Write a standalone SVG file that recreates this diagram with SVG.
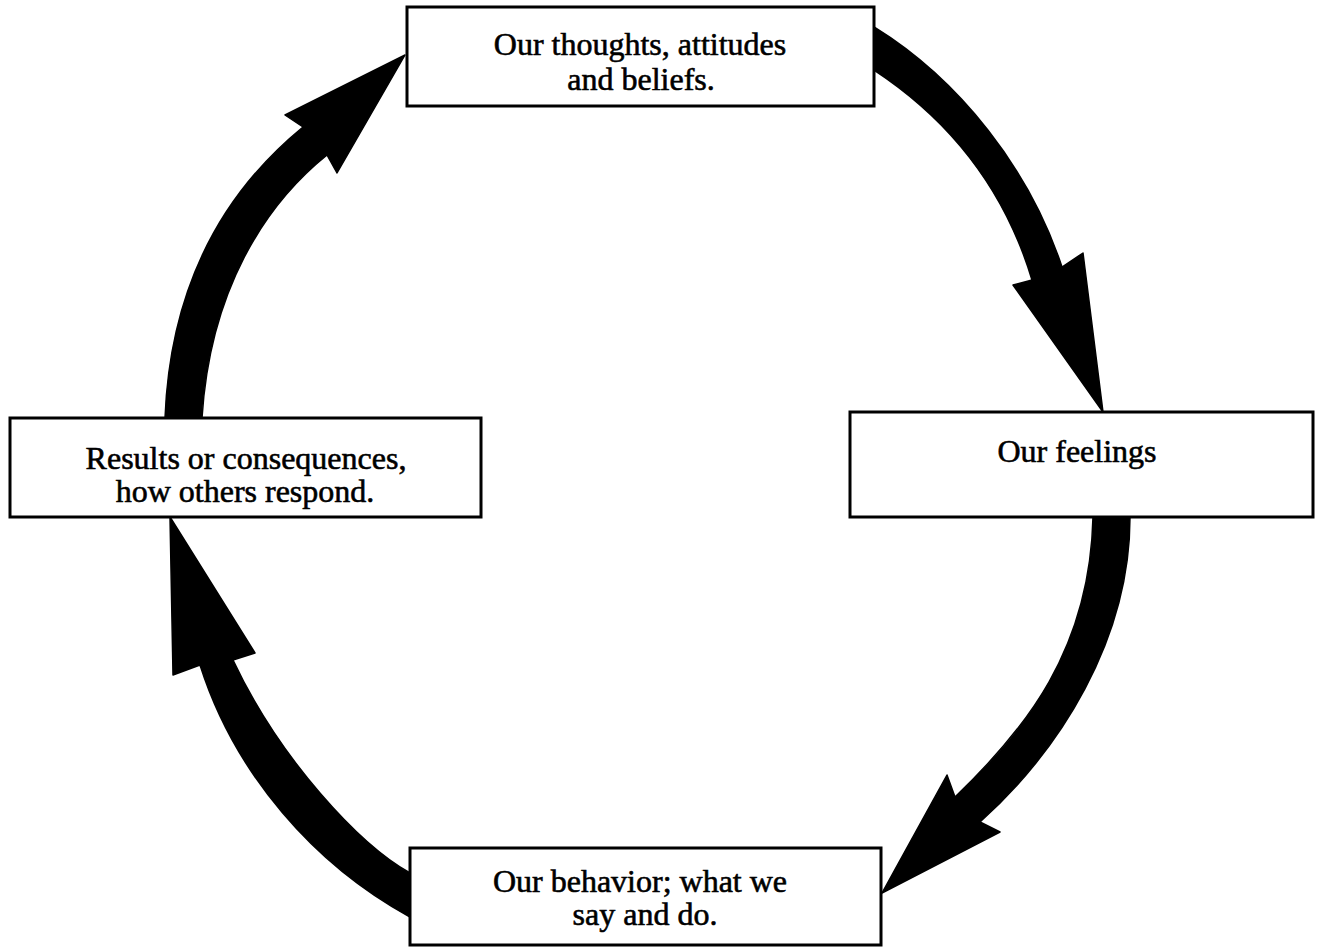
<svg xmlns="http://www.w3.org/2000/svg" width="1318" height="948" viewBox="0 0 1318 948">
<style>
.box{fill:#fff;stroke:#000;stroke-width:3}
.lbl{font-family:"Liberation Serif","Times New Roman",serif;font-size:32px;fill:#000;stroke:#000;stroke-width:0.6;text-anchor:middle}
.arr{fill:#000;stroke:#000;stroke-width:1.5;stroke-linejoin:round}
</style>
<rect width="1318" height="948" fill="#fff"/>
<g id="connectors">
<path class="arr" d="M874,27 C960,80 1030,170 1062,267 L1083,253 L1103,412 L1013,285 L1032,280 C1005,190 950,120 874,70 Z"/>
<path class="arr" d="M1130,517 C1130,640 1060,750 980,822 L1000,832 L882,893 L947,775 L955,797 C1025,730 1090,650 1093,517 Z"/>
<path class="arr" d="M410,873 C360,845 280,760 233,660 L255,653 L170,517 L173,675 L200,665 C235,775 315,865 410,917 Z"/>
<path class="arr" d="M165,418 C170,290 220,195 303,127 L285,115 L405,55 L337,173 L327,155 C265,205 210,290 202,418 Z"/>
</g>
<g id="node-thoughts">
<rect class="box" x="407" y="7" width="467" height="99"/>
<text class="lbl" x="640" y="55">Our thoughts, attitudes</text>
<text class="lbl" x="641" y="90">and beliefs.</text>
</g>
<g id="node-feelings">
<rect class="box" x="850" y="412" width="463" height="105"/>
<text class="lbl" x="1077" y="462">Our feelings</text>
</g>
<g id="node-behavior">
<rect class="box" x="410" y="848" width="471" height="97"/>
<text class="lbl" x="640" y="892">Our behavior; what we</text>
<text class="lbl" x="645" y="925">say and do.</text>
</g>
<g id="node-results">
<rect class="box" x="10" y="418" width="471" height="99"/>
<text class="lbl" x="246" y="469">Results or consequences,</text>
<text class="lbl" x="245" y="502">how others respond.</text>
</g>
</svg>
